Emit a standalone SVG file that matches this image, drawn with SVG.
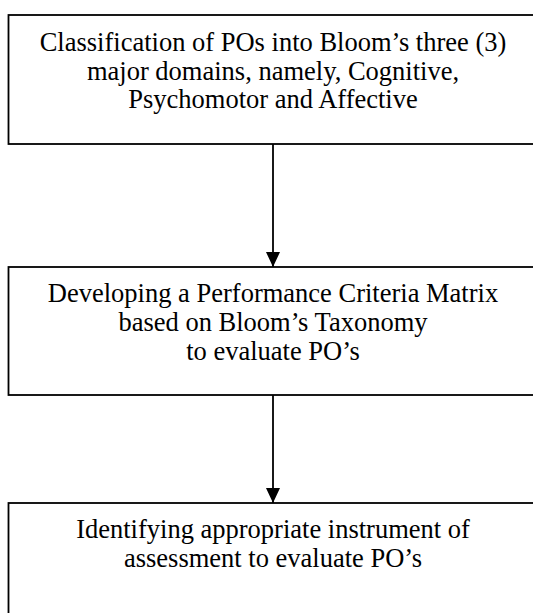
<svg xmlns="http://www.w3.org/2000/svg" width="533" height="613" viewBox="0 0 533 613">
  <style>
    .box { fill: #ffffff; stroke: #000000; stroke-width: 1.8; }
    .label { font-family: "Liberation Serif", "Times New Roman", serif; font-size: 26.5px; fill: #000000; text-anchor: middle; }
    .link { stroke: #000000; stroke-width: 1.8; fill: none; }
  </style>
  <defs>
    <marker id="arrow" viewBox="0 0 15 14" refX="15" refY="7" markerWidth="15" markerHeight="14" markerUnits="userSpaceOnUse" orient="auto">
      <path d="M0,0 L15,7 L0,14 Z" fill="#000000"/>
    </marker>
  </defs>
  <rect width="533" height="613" fill="#ffffff"/>

  <g id="connectors">
    <line class="link" x1="273" y1="144" x2="273" y2="267" marker-end="url(#arrow)"/>
    <line class="link" x1="273" y1="395" x2="273" y2="503" marker-end="url(#arrow)"/>
  </g>

  <g id="classification">
    <rect class="box" x="8.5" y="15" width="540" height="129"/>
    <text class="label" x="273" y="51">Classification of POs into Bloom’s three (3)</text>
    <text class="label" x="273" y="80">major domains, namely, Cognitive,</text>
    <text class="label" x="273" y="108">Psychomotor and Affective</text>
  </g>

  <g id="criteria-matrix">
    <rect class="box" x="8.5" y="267" width="540" height="128"/>
    <text class="label" x="273" y="302">Developing a Performance Criteria Matrix</text>
    <text class="label" x="273" y="331">based on Bloom’s Taxonomy</text>
    <text class="label" x="273" y="360">to evaluate PO’s</text>
  </g>

  <g id="assessment-instrument">
    <rect class="box" x="8.5" y="503" width="540" height="130"/>
    <text class="label" x="273" y="538">Identifying appropriate instrument of</text>
    <text class="label" x="273" y="567">assessment to evaluate PO’s</text>
  </g>
</svg>
